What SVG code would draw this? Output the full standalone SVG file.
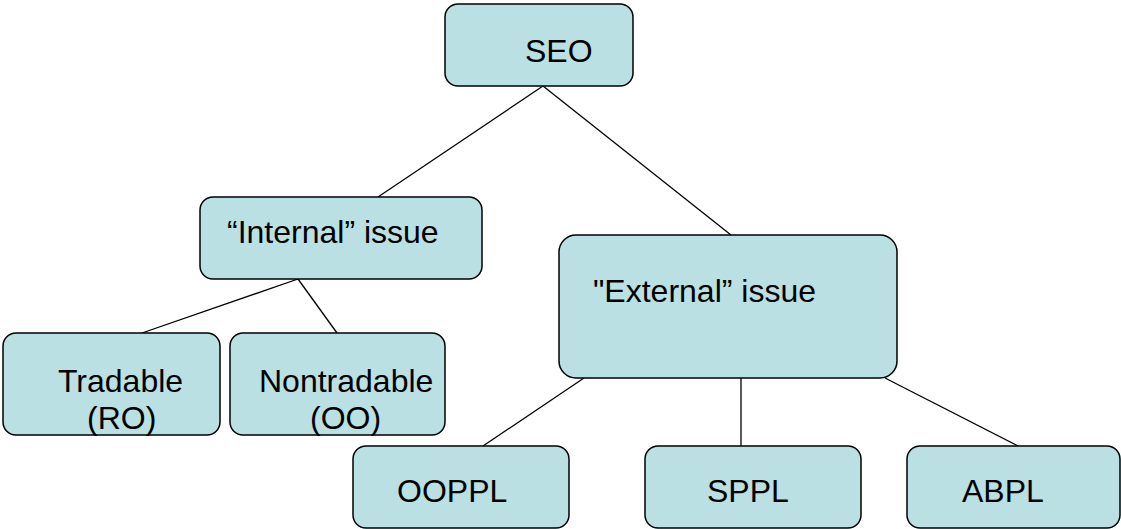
<svg xmlns="http://www.w3.org/2000/svg" width="1121" height="529" viewBox="0 0 1121 529">
<style>
.box{fill:#BAE0E3;stroke:#000;stroke-width:1.5}
.t{font-family:"Liberation Sans",Arial,sans-serif;font-size:32px;fill:#000}
.c line{stroke:#000;stroke-width:1.3}
</style>
<rect width="1121" height="529" fill="#fff"/>
<g class="c" id="connectors">
<line x1="543" y1="86" x2="378" y2="197"/>
<line x1="543" y1="86" x2="731" y2="235"/>
<line x1="298" y1="279" x2="142" y2="333"/>
<line x1="298" y1="279" x2="337" y2="333"/>
<line x1="584" y1="378" x2="483" y2="446"/>
<line x1="741" y1="378" x2="741" y2="446"/>
<line x1="885" y1="378" x2="1018" y2="446"/>
</g>
<g id="seo"><rect class="box" x="445" y="4" width="188" height="82" rx="13"/><text class="t" x="525" y="62">SEO</text></g>
<g id="internal"><rect class="box" x="200" y="197" width="282" height="82" rx="13"/><text class="t" x="227" y="243">“Internal” issue</text></g>
<g id="external"><rect class="box" x="559" y="235" width="338" height="143" rx="17"/><text class="t" x="593" y="302">"External” issue</text></g>
<g id="tradable"><rect class="box" x="3" y="333" width="217" height="102" rx="13"/><text class="t" x="58" y="392">Tradable</text><text class="t" x="87" y="429">(RO)</text></g>
<g id="nontradable"><rect class="box" x="230" y="333" width="215" height="102" rx="13"/><text class="t" x="259" y="392">Nontradable</text><text class="t" x="310" y="429">(OO)</text></g>
<g id="ooppl"><rect class="box" x="353" y="446" width="216" height="82" rx="13"/><text class="t" x="397" y="502">OOPPL</text></g>
<g id="sppl"><rect class="box" x="645" y="446" width="216" height="82" rx="13"/><text class="t" x="707" y="502">SPPL</text></g>
<g id="abpl"><rect class="box" x="907" y="446" width="213" height="82" rx="13"/><text class="t" x="962" y="502">ABPL</text></g>
</svg>
